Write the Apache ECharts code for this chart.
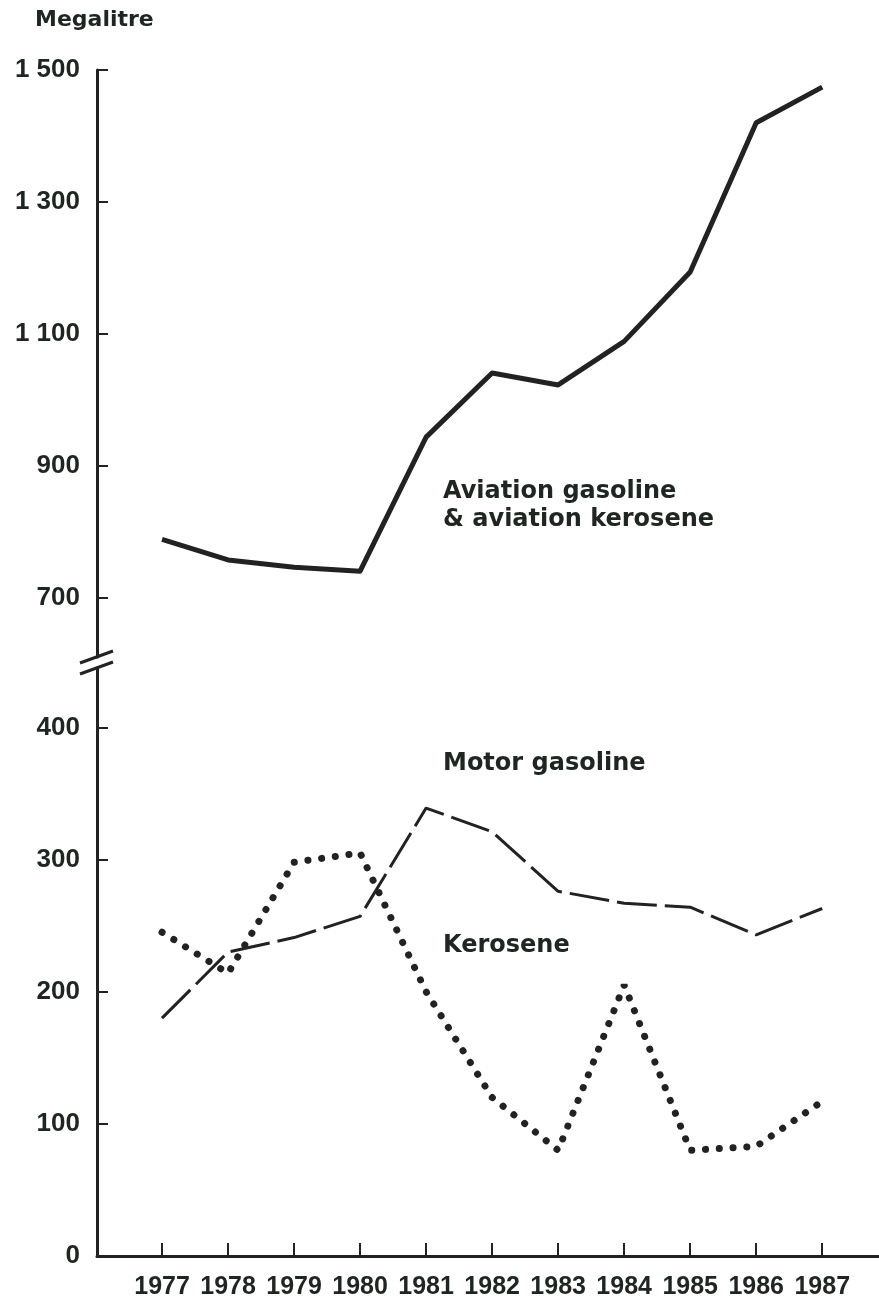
<!DOCTYPE html>
<html>
<head>
<meta charset="utf-8">
<title>Megalitre</title>
<script src="https://cdn.jsdelivr.net/npm/echarts@6.0.0/dist/echarts.min.js"></script>
<style>
html, body { margin: 0; padding: 0; background: #fff; }
#chart { width: 879px; height: 1302px; }
</style>
</head>
<body>
<div id="chart"></div>
<script>
// data
var years = [1977, 1978, 1979, 1980, 1981, 1982, 1983, 1984, 1985, 1986, 1987]
var aviation = [789, 758, 747, 741, 944, 1041, 1023, 1089, 1194, 1420, 1474]
var motorGasoline = [180, 230, 241, 257, 339, 321, 276, 267, 264, 243, 263]
var kerosene = [245, 214, 298, 305, 200, 120, 80, 205, 80, 83, 117]
var upperTicks = [700, 900, 1100, 1300, 1500]
var lowerTicks = [0, 100, 200, 300, 400]

var ink = '#222'
var textInk = '#1f2621'
var numFont = '"Liberation Sans", Arial, sans-serif'
var wordFont = '"DejaVu Sans", sans-serif'

function pairs(vals) {
    return years.map(function (y, i) { return [y, vals[i]] })
}

function fmtNum(v) {
    if (v >= 1000) {
        return Math.floor(v / 1000) + ' ' + String(v % 1000).padStart(3, '0')
    }
    return String(v)
}

var xMin = 1976.015
var xMax = 1987.86

function yAxisFor(index, min, max, ticks) {
    return {
        type: 'value',
        gridIndex: index,
        min: min,
        max: max,
        splitLine: { show: false },
        axisLine: { show: true, lineStyle: { color: ink, width: 3 } },
        axisTick: {
            show: true, inside: true, length: 11, customValues: ticks,
            lineStyle: { color: ink, width: 2 }
        },
        axisLabel: {
            customValues: ticks, margin: 17, formatter: fmtNum,
            color: textInk, fontFamily: numFont, fontWeight: 'bold', fontSize: 26
        }
    }
}

function label(text, x, y, size) {
    return {
        type: 'text', x: x, y: y,
        style: { text: text, font: 'bold ' + size + 'px ' + wordFont, fill: textInk, textVerticalAlign: 'middle' }
    }
}

var myChart = echarts.init(document.getElementById('chart'))
var option = {
    animation: false,
    backgroundColor: '#fff',
    grid: [
        { left: 97, right: 0, top: 70, height: 587 },
        { left: 97, right: 0, top: 668, height: 588 }
    ],
    xAxis: [
        { type: 'value', gridIndex: 0, min: xMin, max: xMax, show: false },
        {
            type: 'value',
            gridIndex: 1,
            min: xMin,
            max: xMax,
            splitLine: { show: false },
            axisLine: { show: true, lineStyle: { color: ink, width: 3 } },
            axisTick: {
                show: true, inside: true, length: 13, customValues: years,
                lineStyle: { color: ink, width: 2 }
            },
            axisLabel: {
                customValues: years, margin: 19, formatter: function (v) { return String(v) },
                color: textInk, fontFamily: numFont, fontWeight: 'bold', fontSize: 25
            }
        }
    ],
    yAxis: [
        yAxisFor(0, 611, 1500, upperTicks),
        yAxisFor(1, 0, 445, lowerTicks)
    ],
    series: [
        {
            name: 'Aviation gasoline & aviation kerosene',
            type: 'line',
            xAxisIndex: 0,
            yAxisIndex: 0,
            data: pairs(aviation),
            symbol: 'none',
            lineStyle: { color: ink, width: 5, join: 'round' }
        },
        {
            name: 'Motor gasoline',
            type: 'line',
            xAxisIndex: 1,
            yAxisIndex: 1,
            data: pairs(motorGasoline),
            symbol: 'none',
            lineStyle: { color: ink, width: 3, type: [40, 8] }
        },
        {
            name: 'Kerosene',
            type: 'line',
            xAxisIndex: 1,
            yAxisIndex: 1,
            data: pairs(kerosene),
            symbol: 'none',
            lineStyle: { color: ink, width: 7, type: [0.1, 13.7], cap: 'round' }
        }
    ],
    graphic: [
        label('Megalitre', 35, 20.5, 22),
        label('Aviation gasoline', 443, 492, 24),
        label('& aviation kerosene', 443, 520, 24),
        label('Motor gasoline', 443, 764, 24),
        label('Kerosene', 443, 946, 24),
        // axis break marks
        {
            type: 'line', shape: { x1: 80, y1: 663, x2: 113, y2: 651 },
            style: { stroke: ink, lineWidth: 3 }
        },
        {
            type: 'line', shape: { x1: 80, y1: 674, x2: 113, y2: 662 },
            style: { stroke: ink, lineWidth: 3 }
        }
    ]
}
myChart.setOption(option)
</script>
</body>
</html>
